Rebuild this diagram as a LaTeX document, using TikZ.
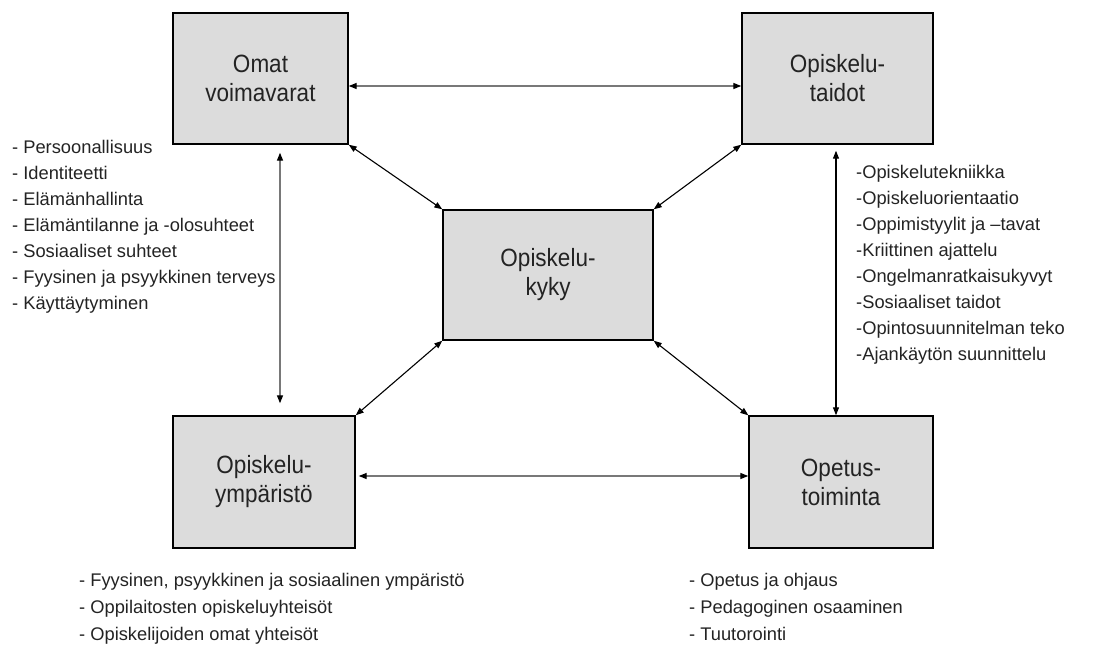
\documentclass[tikz,border=0pt]{standalone}
\usepackage{fontspec}
\setmainfont{Liberation Sans}
\usetikzlibrary{arrows.meta}
\definecolor{boxfill}{RGB}{220,220,220}
\definecolor{txt}{RGB}{35,35,35}
\definecolor{graylin}{RGB}{120,120,120}
\tikzset{
  box/.style={draw=black, line width=1.4pt, fill=boxfill, rectangle, inner sep=0pt},
  lbl/.style={align=center, text=txt, font=\fontsize{25}{29}\selectfont, inner sep=0pt, xscale=0.9},
  lst/.style={align=left, text=txt, font=\fontsize{18.3}{26}\selectfont, inner sep=0pt, anchor=north west},
  arr/.style={line width=1.1pt, {Triangle[length=8pt,width=6pt,color=black]}-{Triangle[length=8pt,width=6pt,color=black]}},
  garr/.style={arr, draw=graylin, line width=1.3pt},
}
\begin{document}
\begin{tikzpicture}[x=1pt,y=-1pt]
\useasboundingbox (0,0) rectangle (1109,645);
% boxes
\node[box, minimum width=175pt, minimum height=131pt] (tl) at (260.5,78.5) {};
\node[box, minimum width=191pt, minimum height=131pt] (tr) at (837.5,78.5) {};
\node[box, minimum width=210pt, minimum height=130pt] (c)  at (548,275) {};
\node[box, minimum width=182pt, minimum height=132pt] (bl) at (264,482) {};
\node[box, minimum width=184pt, minimum height=132pt] (br) at (841,482) {};
% labels
\node[lbl] (ltl) at (tl) {Omat\\voimavarat};
\node[lbl] (ltr) at (tr) {Opiskelu-\\taidot};
\node[lbl] (lc)  at (c)  {Opiskelu-\\kyky};
\node[lbl] (lbl) at (bl) {Opiskelu-\\ympäristö};
\node[lbl] (lbr) at (br) {Opetus-\\toiminta};
% connectors
\draw[garr] ([yshift=-7.5pt]tl.east) -- ([yshift=-7.5pt]tr.west);
\draw[garr, shorten <=3pt] ([yshift=6pt]bl.east) -- ([yshift=6pt]br.west);
\draw[garr, shorten <=8pt, shorten >=12pt] ([xshift=19.5pt]tl.south) -- ([xshift=16pt]bl.north);
\draw[arr, shorten <=6pt] ([xshift=-1.5pt]tr.south) -- ([xshift=-5pt]br.north);
\draw[arr] (tl.south east) -- (c.north west);
\draw[arr] (tr.south west) -- (c.north east);
\draw[arr] (c.south west) -- (bl.north east);
\draw[arr] (c.south east) -- (br.north west);
% lists
\node[lst] (l1) at (12,140) {- Persoonallisuus\\- Identiteetti\\- Elämänhallinta\\- Elämäntilanne ja -olosuhteet\\- Sosiaaliset suhteet\\- Fyysinen ja psyykkinen terveys\\- Käyttäytyminen};
\node[lst] (l2) at (856,165) {-Opiskelutekniikka\\-Opiskeluorientaatio\\-Oppimistyylit ja –tavat\\-Kriittinen ajattelu\\-Ongelmanratkaisukyvyt\\-Sosiaaliset taidot\\-Opintosuunnitelman teko\\-Ajankäytön suunnittelu};
\node[lst, font=\fontsize{18.3}{27}\selectfont] (l3) at (79,573) {- Fyysinen, psyykkinen ja sosiaalinen ympäristö\\- Oppilaitosten opiskeluyhteisöt\\- Opiskelijoiden omat yhteisöt};
\node[lst, font=\fontsize{18.3}{27}\selectfont] (l4) at (689,573) {- Opetus ja ohjaus\\- Pedagoginen osaaminen\\- Tuutorointi};
\end{tikzpicture}
\end{document}
